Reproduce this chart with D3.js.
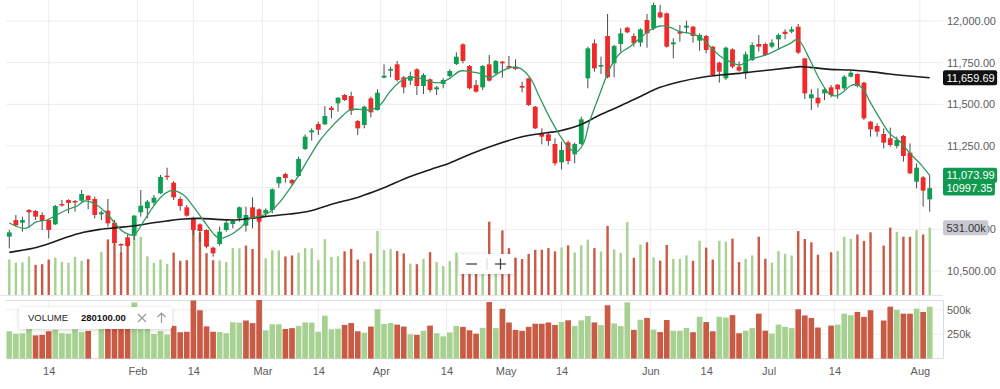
<!DOCTYPE html>
<html><head><meta charset="utf-8">
<script src="https://cdn.jsdelivr.net/npm/d3@7"></script>
<style>
html,body{margin:0;padding:0;background:#fff;}
svg{display:block;font-family:"Liberation Sans",Arial,Helvetica,sans-serif;}
</style></head><body>
<svg id="chart" width="1000" height="389"></svg>
<script>
// ---------- DATA ----------
const opens = [10706,10806,10790,10866,10860,10836,10806,10780,10902,10926,10920,10922,10952,10932,10840,10862,10790,10662,10702,10712,
10852,10876,10910,10966,11072,11030,10932,10882,10816,10780,10746,10640,10662,10746,10782,10816,10772,10882,10870,10846,
10866,11026,11082,11046,11070,11232,11332,11382,11380,11480,11506,11556,11550,11400,11376,11536,11466,11660,11702,11740,
11662,11642,11710,11610,11650,11590,11622,11670,11742,11860,11730,11616,11602,11740,11686,11756,11730,11726,11610,11656,
11486,11322,11320,11262,11152,11272,11200,11262,11656,11866,11726,11910,11746,11862,11960,11910,11870,12006,11956,12052,
12046,11860,11936,11960,11966,11882,11910,11846,11750,11656,11830,11726,11686,11766,11862,11862,11846,11890,11936,11936,
11966,11776,11536,11540,11566,11602,11618,11596,11666,11682,11630,11396,11370,11322,11296,11250,11310,11210,11036,11062,10930];
const highs = [10746,10836,10826,10872,10866,10852,10812,10896,10926,10930,10926,10986,10956,10946,10862,10932,10806,10666,10716,10836,
10986,10926,10956,11076,11120,11040,10946,10896,10826,10786,10750,10646,10766,10802,10810,10886,10886,10942,10876,10876,
10996,11066,11090,11052,11186,11320,11356,11396,11490,11490,11542,11562,11576,11406,11492,11546,11590,11740,11726,11760,
11670,11696,11716,11686,11656,11610,11656,11710,11812,11866,11736,11646,11736,11796,11766,11760,11790,11770,11636,11660,
11490,11356,11330,11296,11276,11282,11270,11426,11846,11890,11786,12042,11856,11956,11966,11926,11956,12042,12110,12096,
12050,11896,11976,12002,11970,11926,11916,11850,11756,11846,11836,11756,11816,11872,11916,11870,11890,11926,11950,11966,
11982,11776,11590,11596,11602,11616,11622,11676,11702,11686,11636,11400,11386,11356,11360,11306,11316,11266,11146,11070,11076];
const lows = [10636,10766,10736,10758,10806,10746,10696,10776,10886,10846,10856,10916,10870,10816,10806,10766,10656,10606,10646,10686,
10826,10816,10896,10962,11046,10926,10862,10826,10716,10676,10636,10586,10652,10736,10756,10796,10736,10756,10790,10830,
10846,11000,11030,11012,11066,11226,11282,11316,11376,11416,11456,11520,11436,11316,11356,11422,11462,11656,11662,11636,
11566,11616,11556,11562,11572,11556,11596,11662,11736,11746,11590,11570,11586,11636,11682,11660,11710,11706,11572,11490,
11352,11260,11252,11132,11110,11140,11146,11256,11596,11696,11682,11656,11662,11816,11926,11846,11846,11840,11946,12016,
11840,11776,11876,11926,11870,11822,11806,11670,11630,11646,11716,11696,11652,11760,11816,11790,11836,11826,11890,11926,
11802,11532,11466,11482,11526,11542,11534,11586,11662,11602,11406,11306,11306,11236,11246,11236,11156,11082,10996,10886,10856];
const closes = [10732,10774,10806,10852,10826,10800,10746,10890,10894,10908,10912,10962,10926,10836,10852,10786,10666,10654,10650,10832,
10892,10916,10940,11064,11068,10942,10890,10832,10746,10740,10646,10606,10736,10790,10800,10882,10836,10812,10796,10866,
10990,11064,11058,11026,11172,11306,11344,11348,11430,11466,11540,11526,11462,11356,11486,11452,11570,11672,11712,11646,
11602,11670,11610,11676,11586,11602,11646,11700,11786,11760,11596,11576,11730,11642,11760,11746,11720,11712,11600,11496,
11356,11306,11280,11146,11226,11160,11262,11410,11836,11716,11736,11662,11850,11926,11932,11866,11950,11926,12096,12022,
11846,11872,11924,11972,11910,11916,11826,11676,11696,11840,11726,11702,11800,11856,11846,11796,11870,11916,11922,11950,
11810,11566,11560,11506,11590,11556,11590,11666,11690,11610,11416,11350,11336,11270,11256,11286,11190,11086,11120,10982,10997.35];
const volumes = [280100,255000,258000,305000,238000,243000,280000,295000,260000,255000,300000,270000,283000,null,340000,439000,400000,335000,440000,575000,
460000,305000,252000,280000,246000,335000,270000,275000,595000,495000,330000,275000,272000,260000,372000,368000,390000,363000,600000,290000,
352000,352000,304000,312000,334000,370000,368000,275000,440000,300000,306000,345000,364000,280000,265000,328000,506000,354000,364000,348000,
328000,248000,243000,285000,338000,260000,228000,268000,334000,325000,290000,255000,315000,579000,312000,510000,370000,294000,284000,325000,
357000,357000,370000,344000,375000,392000,335000,392000,437000,370000,343000,546000,360000,333000,576000,294000,398000,416000,297000,272000,
395000,285000,285000,313000,270000,428000,374000,280000,428000,420000,445000,260000,285000,312000,460000,286000,256000,348000,325000,312000,
505000,442000,416000,318000,null,338000,348000,460000,444000,478000,427000,495000,null,390000,532000,499000,460000,460000,512000,478000,531000];
// moving averages: [candle index, value]
const maFast = [[0,10788],[2.4,10756],[4.2,10796],[5.7,10806],[7.2,10836],[8.7,10866],[10.3,10890],[11.5,10920],[13.3,10896],[14.8,10846],
[16.1,10786],[17.3,10736],[18.9,10716],[20.4,10796],[21.9,10886],[23.4,10956],[24.7,10982],[26.5,10956],[28,10886],[29.5,10806],
[31,10726],[32,10696],[33.6,10716],[35.1,10756],[36.6,10816],[38.1,10828],[39.7,10856],[41.2,10916],[42.7,10996],[44.2,11086],
[45.7,11186],[47.3,11286],[48.8,11356],[50.3,11416],[51.8,11466],[53.3,11470],[54.9,11466],[56.4,11496],[57.9,11576],[59.4,11636],
[60.9,11662],[62.5,11656],[64,11636],[65.5,11630],[67,11656],[68.6,11700],[70.1,11696],[71.6,11686],[73.1,11660],[74.6,11692],
[76.2,11720],[77.7,11716],[79.2,11660],[80.7,11540],[82.2,11420],[83.8,11310],[85.3,11232],[86.3,11216],[87.3,11262],[88.3,11400],
[89.8,11560],[91.4,11720],[92.9,11806],[94.4,11846],[95.9,11896],[97.5,11946],[99,11970],[100.5,11962],[102,11936],[103.5,11926],
[105,11906],[106.6,11846],[108.1,11790],[109.6,11756],[111.1,11736],[112.7,11770],[114.2,11786],[115.7,11806],[117.2,11836],[118.8,11866],
[119.8,11890],[120.3,11876],[121.8,11766],[123.3,11646],[124.8,11560],[125.9,11552],[126.9,11576],[127.9,11610],[128.9,11620],[129.9,11590],
[130.9,11516],[132.4,11416],[133.9,11326],[135.5,11276],[137,11206],[138.5,11146],[140,11073.99]];
const maSlow = [[0,10612],[3.6,10636],[6.2,10666],[8.7,10702],[11.3,10732],[13.8,10750],[16.3,10760],[18.8,10770],[21.4,10786],[23.9,10800],
[26.5,10812],[29,10816],[31.5,10810],[34.1,10806],[36.6,10816],[39.7,10830],[42.7,10842],[45.7,10860],[48.8,10898],[53.3,10946],
[56.4,10990],[60.9,11066],[64,11108],[67,11148],[70.1,11200],[73.1,11246],[77.7,11302],[80.7,11324],[83.8,11342],[86.8,11376],
[89.8,11436],[92.9,11490],[95.9,11546],[99,11602],[102,11636],[105,11660],[108.1,11676],[111.1,11686],[115.7,11706],[118.8,11720],
[120.3,11726],[121.8,11722],[124.8,11710],[127.9,11706],[130.9,11696],[133.9,11682],[137,11670],[140,11659.69]];
const priceTicks = [10500,10750,11000,11250,11500,11750,12000];
const volumeTicks = [250000,500000];
const dateTickPos = [6,19.5,28,38.5,47,56.5,66.5,75.5,84,97.5,106,115.5,125.5,138.5];
const dateTickLabels = ["14","Feb","14","Mar","14","Apr","14","May","14","Jun","14","Jul","14","Aug"];
const legendName = "VOLUME";

// ---------- LAYOUT ----------
const plotLeft = 6, plotRight = 943;
const mainBottom = 295, volTop = 300, volBottom = 358.6;
const C = {up:"#0e9f53", down:"#f02a2a", wick:"#4a4a4a", vUp:"#a6d190", vDown:"#c95a44",
  grid:"#ededf0", label:"#5c5c5c", fast:"#2f9a5f", slow:"#1c1c1c"};

const svg = d3.select("#chart");
const n = closes.length;
const x = d3.scaleLinear().domain([-0.5, n - 0.5]).range([6, 933]);
const y = d3.scaleLinear().domain([10500, 12000]).range([271, 21]);
const vmax = d3.max(volumes);
const yVolMain = d3.scaleLinear().domain([0, vmax]).range([mainBottom, 219]);
const yVol = d3.scaleLinear().domain([0, vmax]).range([volBottom, volTop]);
const step = x(1) - x(0);

const defs = svg.append("defs");
defs.append("clipPath").attr("id","mainClip").append("rect")
  .attr("x", plotLeft).attr("y", 0).attr("width", plotRight - plotLeft).attr("height", mainBottom);
const f = defs.append("filter").attr("id","sh").attr("x","-20%").attr("y","-60%").attr("width","140%").attr("height","220%");
f.append("feDropShadow").attr("dx",0).attr("dy",1).attr("stdDeviation",2).attr("flood-color","#000").attr("flood-opacity",0.18);

// grids
const g = svg.append("g");
g.selectAll(".hg").data(priceTicks).join("line")
  .attr("x1", plotLeft).attr("x2", plotRight).attr("y1", d => y(d)).attr("y2", d => y(d))
  .attr("stroke", C.grid).attr("stroke-width", 1);
g.selectAll(".vg").data(dateTickPos).join("line")
  .attr("x1", d => x(d)).attr("x2", d => x(d)).attr("y1", 0).attr("y2", mainBottom)
  .attr("stroke", C.grid).attr("stroke-width", 1);
g.selectAll(".vg2").data(dateTickPos).join("line")
  .attr("x1", d => x(d)).attr("x2", d => x(d)).attr("y1", volTop).attr("y2", volBottom)
  .attr("stroke", C.grid).attr("stroke-width", 1);
g.selectAll(".hg2").data(volumeTicks).join("line")
  .attr("x1", plotLeft).attr("x2", plotRight).attr("y1", d => yVol(d)).attr("y2", d => yVol(d))
  .attr("stroke", C.grid).attr("stroke-width", 1);
// pane borders
svg.append("line").attr("x1", 0).attr("x2", plotRight).attr("y1", mainBottom + 0.5).attr("y2", mainBottom + 0.5).attr("stroke", "#e4e5ea");
svg.append("path").attr("d", `M${plotLeft},${volTop + 0.5}H${plotRight + 0.5}V${volBottom}H${plotLeft}`)
  .attr("fill","none").attr("stroke","#dcdde3");

const data = closes.map((c, i) => ({i, o: opens[i], h: highs[i], l: lows[i], c, v: volumes[i],
  up: i === 0 ? c >= opens[i] : c >= closes[i - 1]}));

// main pane
const main = svg.append("g").attr("clip-path","url(#mainClip)");
main.selectAll(".vm").data(data.filter(d => d.v != null)).join("rect")
  .attr("x", d => x(d.i) - 1.2).attr("width", 2.4)
  .attr("y", d => yVolMain(d.v)).attr("height", d => yVolMain(0) - yVolMain(d.v))
  .attr("fill", d => d.up ? C.vUp : C.vDown);
main.selectAll(".wk").data(data).join("line")
  .attr("x1", d => x(d.i)).attr("x2", d => x(d.i)).attr("y1", d => y(d.h)).attr("y2", d => y(d.l))
  .attr("stroke", C.wick).attr("stroke-width", 1);
main.selectAll(".bd").data(data).join("rect")
  .attr("x", d => x(d.i) - 2.4).attr("width", 4.8)
  .attr("y", d => y(Math.max(d.o, d.c))).attr("height", d => Math.max(1.5, Math.abs(y(d.o) - y(d.c))))
  .attr("fill", d => d.c >= d.o ? C.up : C.down);
const line = d3.line().x(d => x(d[0])).y(d => y(d[1])).curve(d3.curveCatmullRom.alpha(0.5));
main.append("path").attr("d", line(maSlow)).attr("fill","none").attr("stroke", C.slow).attr("stroke-width", 1.6);
main.append("path").attr("d", line(maFast)).attr("fill","none").attr("stroke", C.fast).attr("stroke-width", 1.3);

// volume pane
svg.append("g").selectAll("rect").data(data.filter(d => d.v != null)).join("rect")
  .attr("x", d => x(d.i) - step * 0.43).attr("width", step * 0.86)
  .attr("y", d => yVol(d.v)).attr("height", d => yVol(0) - yVol(d.v))
  .attr("fill", d => d.up ? C.vUp : C.vDown);

// axes
const ax = svg.append("g").attr("transform", `translate(${plotRight},0)`)
  .call(d3.axisRight(y).tickValues(priceTicks).tickFormat(d3.format(",.2f")).tickSize(0).tickPadding(4));
const axV = svg.append("g").attr("transform", `translate(${plotRight},0)`)
  .call(d3.axisRight(yVol).tickValues(volumeTicks).tickFormat(d => d / 1000 + "k").tickSize(0).tickPadding(4));
const axX = svg.append("g").attr("transform", `translate(0,${volBottom})`)
  .call(d3.axisBottom(x).tickValues(dateTickPos).tickFormat((d, i) => dateTickLabels[i]).tickSize(0).tickPadding(8.5));
[ax, axV, axX].forEach(a => {
  a.select(".domain").remove();
  a.selectAll("text").attr("fill", C.label).attr("font-size", 11).attr("font-family", '"Liberation Sans",Arial,sans-serif');
});

// value badges
function badge(txt, fill, color, yy) {
  const gg = svg.append("g");
  const r = gg.append("rect").attr("x", plotRight).attr("y", yy - 7.5).attr("height", 15).attr("rx", 2).attr("fill", fill);
  const t = gg.append("text").attr("x", plotRight + 3.5).attr("y", yy).attr("dy", "0.35em")
    .attr("font-size", 11).attr("fill", color).text(txt);
  r.attr("width", t.node().getComputedTextLength() + 6);
}
const lastSlow = maSlow[maSlow.length - 1][1], lastFast = maFast[maFast.length - 1][1];
const lastClose = closes[n - 1], lastVol = volumes[n - 1];
badge(d3.format(",.2f")(lastSlow), "#111", "#fff", y(lastSlow));
badge(d3.format(",.2f")(lastFast), "#109a4f", "#fff", y(lastFast));
badge(d3.format(".2f")(lastClose), "#109a4f", "#fff", y(lastClose));
badge((lastVol / 1000).toFixed(2) + "k", "#c9cad1", "#333", yVolMain(lastVol));

// zoom buttons
const zb = svg.append("g");
zb.append("rect").attr("x", 459).attr("y", 254).attr("width", 55).attr("height", 20).attr("rx", 3)
  .attr("fill", "#fff").attr("filter", "url(#sh)");
zb.append("line").attr("x1", 487).attr("x2", 487).attr("y1", 258).attr("y2", 270).attr("stroke", "#d5d5d5");
zb.append("line").attr("x1", 466).attr("x2", 477).attr("y1", 264).attr("y2", 264).attr("stroke", "#444").attr("stroke-width", 1.3);
zb.append("line").attr("x1", 495).attr("x2", 506).attr("y1", 264).attr("y2", 264).attr("stroke", "#444").attr("stroke-width", 1.3);
zb.append("line").attr("x1", 500.5).attr("x2", 500.5).attr("y1", 258.5).attr("y2", 269.5).attr("stroke", "#444").attr("stroke-width", 1.3);

// legend
const lg = svg.append("g");
lg.append("rect").attr("x", 19).attr("y", 307).attr("width", 153).attr("height", 22).attr("rx", 3)
  .attr("fill", "#fff").attr("filter", "url(#sh)");
lg.append("text").attr("x", 28).attr("y", 318).attr("dy", "0.35em").attr("font-size", 9.5).attr("fill", "#222").text(legendName);
lg.append("text").attr("x", 81).attr("y", 318).attr("dy", "0.35em").attr("font-size", 9.5).attr("font-weight", "bold")
  .attr("fill", "#111").text(d3.format(".2f")(volumes[0]));
lg.append("path").attr("d", "M138,314L146,322M146,314L138,322").attr("stroke", "#9a9a9a").attr("stroke-width", 1.2);
lg.append("path").attr("d", "M161.5,313V323M157.5,317L161.5,313L165.5,317").attr("fill","none").attr("stroke", "#9a9a9a").attr("stroke-width", 1.2);
</script>
</body></html>
